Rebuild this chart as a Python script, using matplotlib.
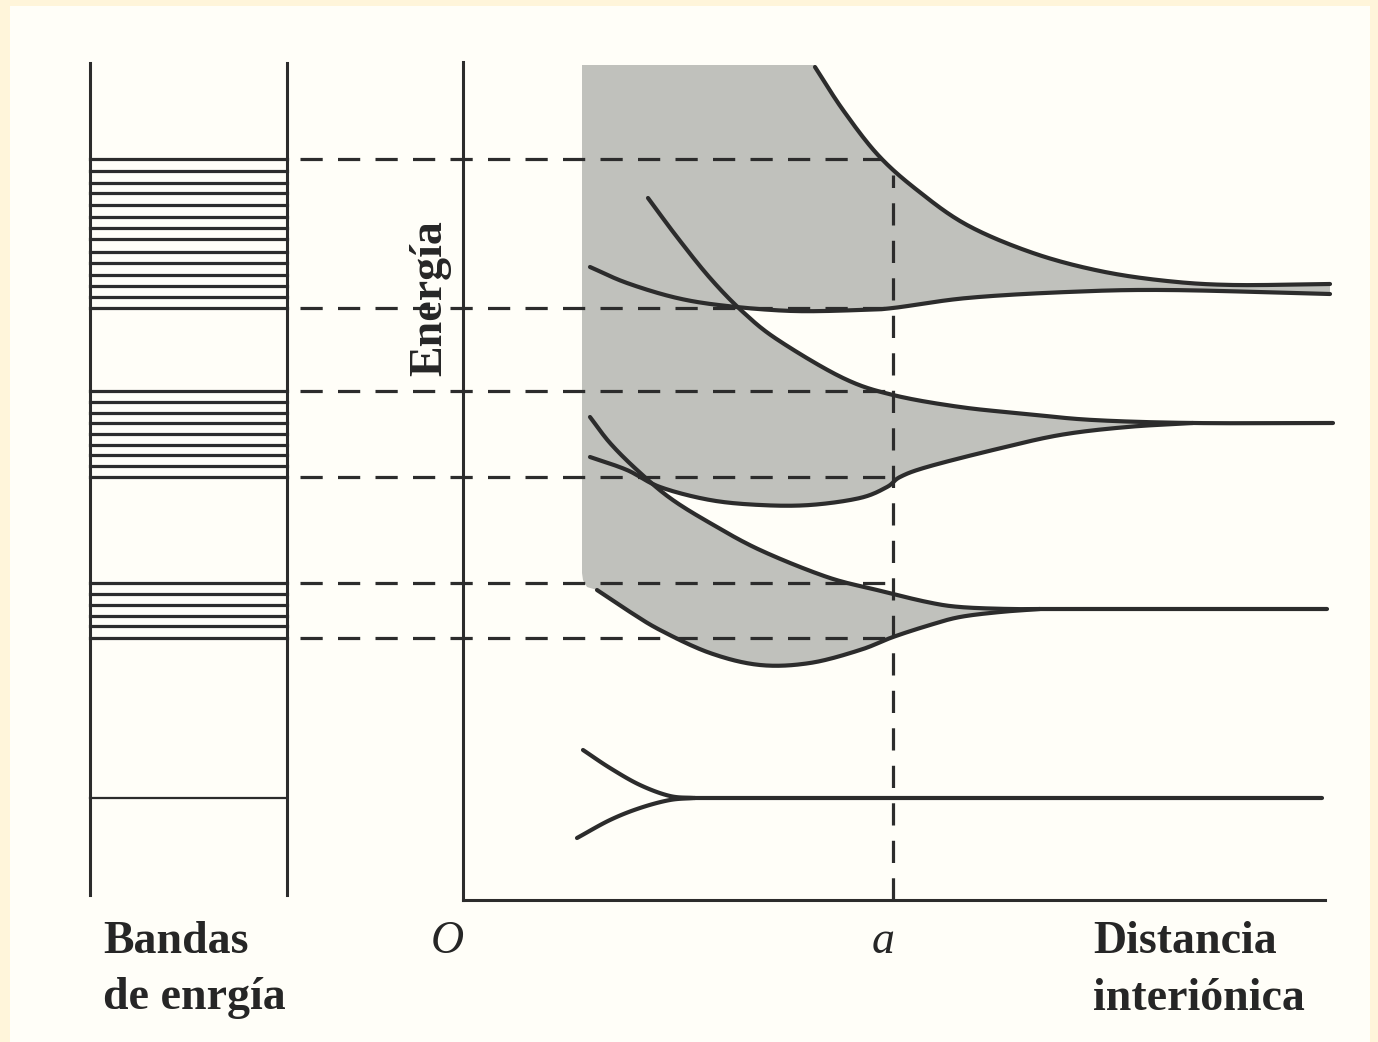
import numpy as np
import matplotlib.pyplot as plt
from matplotlib.patches import Rectangle, Polygon

plt.rcParams['lines.scale_dashes'] = False

# --- values (r = interionic distance, E = energy, arb. units) ---
a_dist = 4.30

band1_levels = [7.41, 7.29, 7.17, 7.07, 6.95, 6.83, 6.72, 6.61, 6.48, 6.37, 6.25, 6.14, 6.03, 5.92]
band2_levels = [5.09, 4.98, 4.87, 4.77, 4.66, 4.55, 4.45, 4.34, 4.23]
band3_levels = [3.17, 3.06, 2.95, 2.84, 2.74, 2.62]
single_level = 1.02

top_upper_r = [3.52, 3.80, 4.15, 4.54, 5.04, 5.70, 6.37, 7.04, 7.70, 8.67]
top_upper_E = [8.33, 7.90, 7.45, 7.10, 6.75, 6.47, 6.29, 6.19, 6.15, 6.16]
top_lower_r = [1.27, 1.64, 2.14, 2.64, 3.30, 3.97, 4.30, 5.04, 6.04, 7.04, 8.67]
top_lower_E = [6.33, 6.17, 6.02, 5.94, 5.89, 5.90, 5.92, 6.02, 6.08, 6.10, 6.06]

mid_upper_r = [1.85, 2.14, 2.47, 2.80, 3.15, 3.80, 4.30, 4.97, 5.64, 6.30, 7.30, 8.70]
mid_upper_E = [7.02, 6.63, 6.22, 5.88, 5.60, 5.22, 5.05, 4.93, 4.86, 4.80, 4.77, 4.77]
mid_lower_r = [1.27, 1.64, 1.97, 2.47, 2.97, 3.47, 3.97, 4.24, 4.37, 4.64, 5.30, 5.97, 6.64, 7.30]
mid_lower_E = [4.43, 4.30, 4.13, 4.00, 3.95, 3.95, 4.02, 4.13, 4.23, 4.33, 4.50, 4.65, 4.73, 4.77]

low_upper_r = [1.27, 1.47, 1.74, 2.07, 2.47, 2.97, 3.64, 4.14, 4.64, 4.97, 5.47, 5.97, 8.64]
low_upper_E = [4.83, 4.57, 4.30, 4.02, 3.77, 3.50, 3.23, 3.10, 2.98, 2.93, 2.91, 2.91, 2.91]
low_lower_r = [1.34, 1.64, 1.97, 2.47, 2.97, 3.47, 3.97, 4.30, 4.67, 4.97, 5.37, 5.77]
low_lower_E = [3.10, 2.90, 2.70, 2.47, 2.35, 2.37, 2.50, 2.63, 2.75, 2.83, 2.88, 2.91]

s_up_r = [1.20, 1.47, 1.77, 2.07, 2.32]
s_up_E = [1.50, 1.32, 1.15, 1.04, 1.02]
s_dn_r = [1.14, 1.47, 1.77, 2.07, 2.32]
s_dn_E = [0.62, 0.80, 0.92, 1.00, 1.02]
s_end_r = 8.59

shade_left, shade_top = 1.19, 8.35

ink = '#2c2c2c'
gray = '#c0c1bc'


def smooth(r, e, n=24):
    # Catmull-Rom through the read points, only for drawing
    p = np.column_stack([r, e]).astype(float)
    p = np.vstack([2 * p[0] - p[1], p, 2 * p[-1] - p[-2]])
    t = np.linspace(0, 1, n, endpoint=False)[:, None]
    out = []
    for i in range(1, len(p) - 2):
        p0, p1, p2, p3 = p[i - 1:i + 3]
        out.append(0.5 * (2 * p1 + (p2 - p0) * t + (2 * p0 - 5 * p1 + 4 * p2 - p3) * t ** 2
                          + (3 * p1 - p0 - 3 * p2 + p3) * t ** 3))
    out.append(p[-2][None])
    return np.vstack(out)


def crossing(ca, cb):
    grid = np.linspace(max(ca[0, 0], cb[0, 0]), min(ca[-1, 0], cb[-1, 0]), 6000)
    d = np.interp(grid, ca[:, 0], ca[:, 1]) - np.interp(grid, cb[:, 0], cb[:, 1])
    i = np.nonzero(np.diff(np.sign(d)))[0][0]
    return grid[i], float(np.interp(grid[i], ca[:, 0], ca[:, 1]))


tu = smooth(top_upper_r, top_upper_E)
tl = smooth(top_lower_r, top_lower_E)
mu = smooth(mid_upper_r, mid_upper_E)
ml = smooth(mid_lower_r, mid_lower_E)
lu = smooth(low_upper_r, low_upper_E)
ll = smooth(low_lower_r, low_lower_E)
su = smooth(s_up_r, s_up_E)
sd = smooth(s_dn_r, s_dn_E)

fig = plt.figure(figsize=(13.78, 10.42), dpi=100)
fig.patch.set_facecolor('#FFF5DA')
ax = fig.add_axes([0, 0, 1, 1])
ax.set_xlim(-4.63, 9.15)
ax.set_ylim(-1.42, 9.00)
ax.axis('off')
ax.add_patch(Rectangle((10 / 1378, 0), 1360 / 1378, 1 - 6 / 1042, transform=ax.transAxes,
                       facecolor='#FFFEF8', edgecolor='none', zorder=0))

# shaded region (allowed energies)
x1, y1 = crossing(tl, mu)
x2, y2 = crossing(ml, lu)
poly = np.vstack([
    [[shade_left, shade_top], [tu[0, 0], shade_top]],
    tu,
    tl[tl[:, 0] > x1][::-1],
    [[x1, y1]],
    mu[(mu[:, 0] > x1) & (mu[:, 0] < ml[-1, 0])],
    ml[ml[:, 0] > x2][::-1],
    [[x2, y2]],
    lu[(lu[:, 0] > x2) & (lu[:, 0] < ll[-1, 0])],
    ll[::-1],
    [[shade_left + 0.05, 3.13], [shade_left + 0.01, 3.20], [shade_left, 3.27]],
])
ax.add_patch(Polygon(poly, closed=True, facecolor=gray, edgecolor='none', zorder=1))

# left panel: energy bands
box_l, box_r = -3.73, -1.76
for xb in (box_l, box_r):
    ax.plot([xb, xb], [0.05, 8.37], color=ink, lw=2.2, zorder=3)
for lev in band1_levels + band2_levels + band3_levels:
    ax.plot([box_l, box_r], [lev, lev], color=ink, lw=2.3, zorder=3)
ax.plot([box_l, box_r], [single_level, single_level], color=ink, lw=1.6, zorder=3)

# dashed guides
dash_levels = [band1_levels[0], band1_levels[-1], band2_levels[0], band2_levels[-1],
               band3_levels[0], band3_levels[-1]]
for lev in dash_levels:
    r_end = min(a_dist, np.interp(lev, tu[::-1, 1], tu[::-1, 0]))
    ax.plot([-1.63, r_end], [lev, lev], color=ink, lw=2.3, dashes=(16, 11), zorder=2)
ax.plot([a_dist, a_dist], [0, np.interp(a_dist, tu[:, 0], tu[:, 1]) - 0.05], color=ink,
        lw=2.3, dashes=(16, 11), zorder=2)

# axes of right panel
ax.plot([0, 0], [0, 8.38], color=ink, lw=2.2, zorder=3)
ax.plot([0, 8.62], [0, 0], color=ink, lw=2.2, zorder=3)

# band curves
curve_kw = dict(color=ink, lw=3.0, solid_capstyle='round', solid_joinstyle='round', zorder=4)
for c in (tu, tl, mu, ml, lu, ll, su, sd):
    ax.plot(c[:, 0], c[:, 1], **curve_kw)
ax.plot([s_up_r[-1], s_end_r], [single_level, single_level], **curve_kw)

# labels
txt = dict(family='Liberation Serif', fontsize=33, color='#262626')
ax.text(-3.60, -0.53, 'Bandas', ha='left', va='baseline', weight='bold', **txt)
ax.text(-3.60, -1.09, 'de enrgía', ha='left', va='baseline', weight='bold', **txt)
ax.text(-0.16, -0.53, 'O', ha='center', va='baseline', style='italic', **txt)
ax.text(4.20, -0.53, 'a', ha='center', va='baseline', style='italic', **txt)
ax.text(6.30, -0.53, 'Distancia', ha='left', va='baseline', weight='bold', **txt)
ax.text(6.30, -1.10, 'interiónica', ha='left', va='baseline', weight='bold', **txt)
ax.text(-0.33, 6.02, 'Energía', ha='center', va='center', rotation=90, weight='bold', **txt)

fig.savefig('out.png', dpi=100, facecolor=fig.get_facecolor())
